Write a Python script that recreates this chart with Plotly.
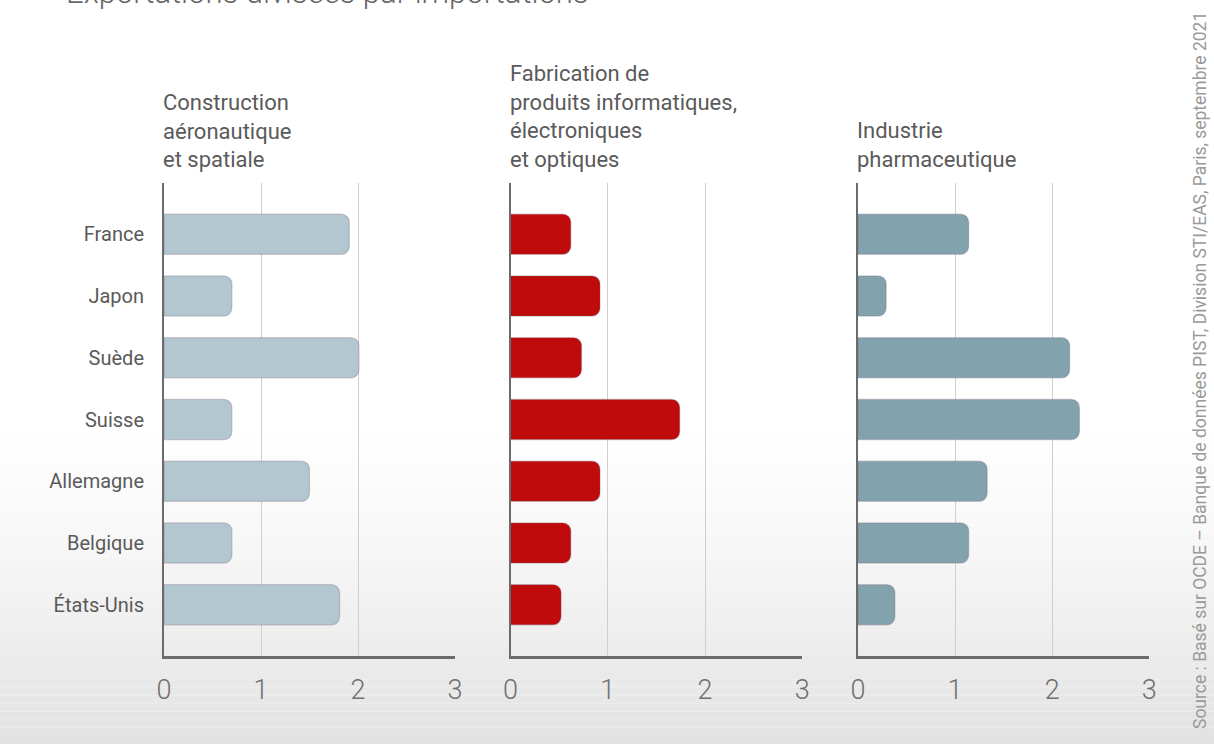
import plotly.graph_objects as go

# Countries (top to bottom) and export/import ratios per industry
countries = ["France", "Japon", "Suède", "Suisse", "Allemagne", "Belgique", "États-Unis"]
aero = [1.91, 0.70, 2.01, 0.70, 1.50, 0.70, 1.81]
info = [0.62, 0.92, 0.73, 1.74, 0.92, 0.62, 0.52]
pharma = [1.14, 0.29, 2.18, 2.28, 1.33, 1.14, 0.38]

panel_titles = [
    "Construction<br>aéronautique<br>et spatiale",
    "Fabrication de<br>produits informatiques,<br>électroniques<br>et optiques",
    "Industrie<br>pharmaceutique",
]
panel_colors = ["#b3c7d0", "#c00b0d", "#82a3ae"]
x_ticks = [0, 1, 2, 3]
title = "Exportations divisées par importations"
source = "Source : Basé sur OCDE – Banque de données PIST, Division STI/EAS, Paris, septembre 2021"

W, H = 1214, 744
FONT = "Roboto"
TEXT = "#5a5a5a"

x_domains = [(164, 455), (510.5, 802.3), (858, 1149.3)]
y_domain = [1 - 656 / H, 1 - 183 / H]

fig = go.Figure()
series = [aero, info, pharma]
for i, (vals, color) in enumerate(zip(series, panel_colors)):
    n = "" if i == 0 else str(i + 1)
    fig.add_trace(go.Bar(
        x=vals, y=countries, orientation="h",
        xaxis="x" + n, yaxis="y" + n,
        width=0.65,
        marker=dict(color=color, line=dict(color="rgba(110,90,110,0.3)", width=1.2)),
        showlegend=False, hoverinfo="x+y",
    ))

    xd = x_domains[i]
    fig.layout["xaxis" + n] = dict(
        domain=[xd[0] / W, xd[1] / W], range=[0, 3], anchor="y" + n,
        automargin=False,
        tickvals=x_ticks, ticktext=[str(t) for t in x_ticks],
        showgrid=True, gridcolor="#cfcfcf", gridwidth=1,
        zeroline=False, showline=True, linecolor="#6b6b6b", linewidth=2.5,
        ticks="outside", ticklen=8, tickcolor="rgba(0,0,0,0)",
        tickfont=dict(family=FONT, size=27, color="#707070", weight=300),
        fixedrange=True,
    )
    fig.layout["yaxis" + n] = dict(
        domain=y_domain, anchor="x" + n, type="category", automargin=False,
        categoryorder="array", categoryarray=countries,
        range=[6.83, -0.83],
        showgrid=False, zeroline=False, showline=True,
        linecolor="#6b6b6b", linewidth=2,
        showticklabels=(i == 0),
        ticks="outside" if i == 0 else "", ticklen=14, tickcolor="rgba(0,0,0,0)",
        tickfont=dict(family=FONT, size=20, color=TEXT),
        fixedrange=True,
    )

    fig.add_annotation(
        text=panel_titles[i], xref="paper", yref="paper",
        x=(xd[0] - 3) / W, y=1 - 174 / H, xanchor="left", yanchor="bottom",
        align="left", showarrow=False,
        font=dict(family=FONT, size=22, color=TEXT),
    )

# soft grey gradient towards the bottom of the page
shapes = []
bands = 40
top_px, bot_px = 420, H
for k in range(bands):
    y0 = top_px + (bot_px - top_px) * k / bands
    y1 = top_px + (bot_px - top_px) * (k + 1) / bands
    t = (k + 0.5) / bands
    g = int(round(255 - (255 - 226) * t ** 1.3))
    shapes.append(dict(
        type="rect", xref="paper", yref="paper", layer="below",
        x0=0, x1=1, y0=1 - y1 / H, y1=1 - y0 / H,
        fillcolor=f"rgb({g},{g},{g})", line=dict(width=0),
    ))

fig.add_annotation(
    text=title, xref="paper", yref="paper", x=64 / W, y=1 + 8 / H,
    xanchor="left", yanchor="middle", showarrow=False,
    font=dict(family=FONT, size=31, color="#666666", weight=300),
)
fig.add_annotation(
    text=source, xref="paper", yref="paper", x=1200 / W, y=1 - 371 / H,
    xanchor="center", yanchor="middle", textangle=-90, showarrow=False,
    font=dict(family=FONT, size=17.5, color="#9a9a9a"),
)

fig.update_layout(
    width=W, height=H, margin=dict(l=0, r=0, t=0, b=0, autoexpand=False),
    paper_bgcolor="white", plot_bgcolor="rgba(0,0,0,0)",
    barmode="overlay", barcornerradius=8, shapes=shapes,
    font=dict(family=FONT, color=TEXT),
)

fig.write_html("out.html", config={"displayModeBar": False})
